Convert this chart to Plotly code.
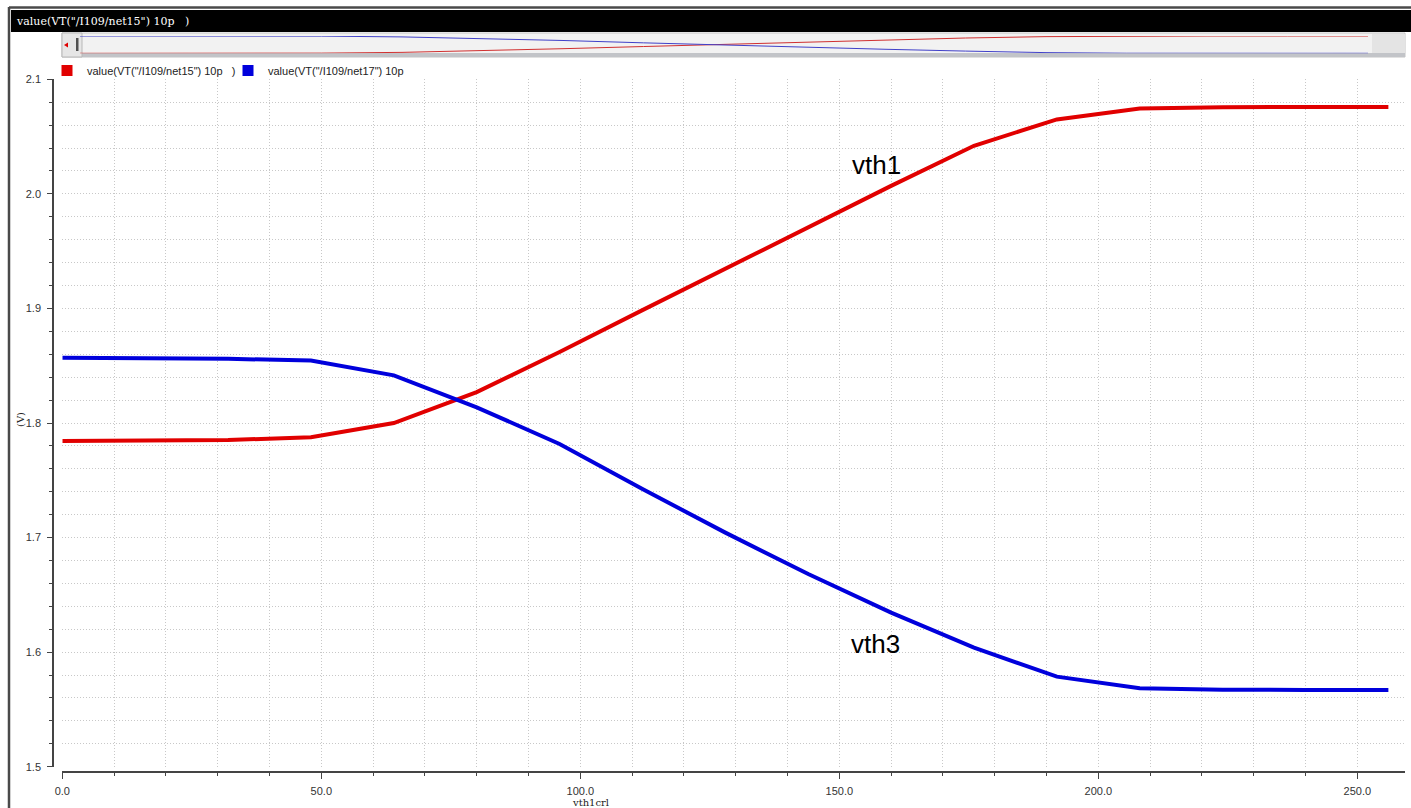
import plotly.graph_objects as go

# ---- data ----
sweep = [0, 16, 32, 48, 64, 80, 96, 112, 128, 144, 160, 176, 192, 208, 224, 240, 256]
vth1 = [1.7843, 1.7845, 1.7852, 1.7875, 1.8000, 1.8270, 1.8620, 1.8985, 1.9345,
        1.9705, 2.0070, 2.0420, 2.0650, 2.0745, 2.0757, 2.0758, 2.0758]
vth3 = [1.8570, 1.8569, 1.8560, 1.8546, 1.8416, 1.8137, 1.7817, 1.7424, 1.7043,
        1.6682, 1.6345, 1.6040, 1.5786, 1.5684, 1.5672, 1.5670, 1.5670]
name1 = 'value(VT("/I109/net15") 10p\u00a0\u00a0\u00a0)'
name2 = 'value(VT("/I109/net17") 10p\u00a0\u00a0\u00a0)'
y_ticks = [1.5, 1.6, 1.7, 1.8, 1.9, 2.0, 2.1]
x_ticks = [0, 50, 100, 150, 200, 250]

W, H = 1411, 808
RED = "#e10000"
BLUE = "#0000dc"


def px(x):
    return min(max(x / W, 0.0), 1.0)


def py(y):
    return min(max(1 - y / H, 0.0), 1.0)


fig = go.Figure()
# main curves
fig.add_trace(go.Scatter(x=sweep, y=vth1, mode="lines", line=dict(color=RED, width=4),
                         showlegend=False, xaxis="x", yaxis="y"))
fig.add_trace(go.Scatter(x=sweep, y=vth3, mode="lines", line=dict(color=BLUE, width=4),
                         showlegend=False, xaxis="x", yaxis="y"))
# legend swatches
fig.add_trace(go.Scatter(x=[None], y=[None], mode="markers", name=name1,
                         marker=dict(symbol="square", size=11, color=RED)))
fig.add_trace(go.Scatter(x=[None], y=[None], mode="markers", name=name2,
                         marker=dict(symbol="square", size=11, color=BLUE)))
# overview strip in the scrollbar
fig.add_trace(go.Scatter(x=sweep, y=vth1, mode="lines", line=dict(color="#d03030", width=1),
                         showlegend=False, xaxis="x2", yaxis="y2", hoverinfo="skip"))
fig.add_trace(go.Scatter(x=sweep, y=vth3, mode="lines", line=dict(color="#4040c8", width=1),
                         showlegend=False, xaxis="x2", yaxis="y3", hoverinfo="skip"))

GRIDC = "#c8c8c8"
GDASH = "1px,2px"
grid = dict(showgrid=True, gridcolor=GRIDC, griddash=GDASH, gridwidth=1)

shapes = [
    # window frame
    dict(type="line", xref="paper", yref="paper", x0=px(9), x1=px(9), y0=0, y1=py(7),
         line=dict(color="#4a4a4a", width=2.5), layer="above"),
    dict(type="line", xref="paper", yref="paper", x0=px(9), x1=1, y0=py(7.5), y1=py(7.5),
         line=dict(color="#4a4a4a", width=2.5)),
    # black title bar
    dict(type="rect", xref="paper", yref="paper", x0=px(11), x1=1, y0=py(32), y1=py(10),
         fillcolor="black", line=dict(width=0), layer="below"),
    # scrollbar
    dict(type="rect", xref="paper", yref="paper", x0=px(62), x1=px(1405), y0=py(57), y1=py(33),
         fillcolor="#f2f2f2", line=dict(color="#c4c4c4", width=1), layer="below"),
    dict(type="rect", xref="paper", yref="paper", x0=px(62), x1=px(1405), y0=py(57), y1=py(53),
         fillcolor="#c2c4c8", line=dict(width=0), layer="below"),
    dict(type="rect", xref="paper", yref="paper", x0=px(1372), x1=px(1405), y0=py(53), y1=py(34),
         fillcolor="#e4e4e4", line=dict(width=0), layer="below"),
    dict(type="rect", xref="paper", yref="paper", x0=px(62), x1=px(82), y0=py(57), y1=py(33),
         fillcolor="#e6e6e6", line=dict(color="#b8b8b8", width=1), layer="below"),
    dict(type="path", xref="paper", yref="paper",
         path=f"M {px(64)} {py(45)} L {px(68)} {py(42.5)} L {px(68)} {py(47.5)} Z",
         fillcolor="#e00000", line=dict(width=0)),
    dict(type="rect", xref="paper", yref="paper", x0=px(76), x1=px(78.5), y0=py(51), y1=py(38),
         fillcolor="#505050", line=dict(width=0)),
]

annotations = [
    dict(text=name1, x=px(14), y=py(21), xref="paper", yref="paper", xanchor="left",
         yanchor="middle", showarrow=False,
         font=dict(family="DejaVu Serif", size=11, color="white")),
    dict(text="vth1", x=px(876), y=py(165), xref="paper", yref="paper", showarrow=False,
         xanchor="center", yanchor="middle",
         font=dict(family="Liberation Sans", size=26, color="black")),
    dict(text="vth3", x=px(875), y=py(644), xref="paper", yref="paper", showarrow=False,
         xanchor="center", yanchor="middle",
         font=dict(family="Liberation Sans", size=26, color="black")),
    dict(text="(V)", x=px(20), y=py(420), xref="paper", yref="paper", showarrow=False,
         xanchor="center", yanchor="middle",
         textangle=-90, font=dict(family="DejaVu Serif", size=10, color="#222")),
    dict(text="vth1crl", x=px(590), y=py(795), xref="paper", yref="paper", showarrow=False,
         xanchor="center", yanchor="top",
         font=dict(family="DejaVu Serif", size=10, color="#222")),
]

x_px0, x_px1 = 62.3, 1405
x_scale = 5.18
fig.update_layout(
    width=W, height=H, margin=dict(l=0, r=0, t=0, b=0, autoexpand=False),
    paper_bgcolor="white", plot_bgcolor="white",
    showlegend=True,
    legend=dict(orientation="h", x=px(47), y=py(56), xanchor="left", yanchor="top",
                font=dict(family="Liberation Sans", size=11, color="#222"),
                itemwidth=30, entrywidth=136, bgcolor="rgba(0,0,0,0)"),
    xaxis=dict(domain=[px(x_px0), px(x_px1)], range=[0, (x_px1 - x_px0) / x_scale],
               anchor="free", position=py(772), showline=True, linecolor="#444", linewidth=1.5,
               tickvals=x_ticks, tickformat=".1f", ticks="outside", ticklen=6, tickcolor="#444",
               ticklabelstandoff=3,
               tickfont=dict(family="Liberation Sans", size=11, color="#333"),
               minor=dict(dtick=10, ticks="outside", ticklen=3, tickcolor="#444",
                          showgrid=True, gridcolor=GRIDC, griddash=GDASH),
               zeroline=False, **grid),
    yaxis=dict(domain=[py(766.7), py(79.3)], range=[1.5, 2.1],
               anchor="free", position=px(53), showline=True, linecolor="#444", linewidth=1.5,
               tickvals=y_ticks, tickformat=".1f", ticks="outside", ticklen=5, tickcolor="#444",
               ticklabelstandoff=4,
               tickfont=dict(family="Liberation Sans", size=11, color="#333"),
               minor=dict(dtick=0.02, ticks="outside", ticklen=3, tickcolor="#444",
                          showgrid=True, gridcolor=GRIDC, griddash=GDASH),
               zeroline=False, **grid),
    xaxis2=dict(domain=[px(80), px(1368)], range=[0, 256], anchor="y2", visible=False),
    yaxis2=dict(domain=[py(53.3), py(36)], range=[min(vth1), max(vth1)], anchor="x2",
                visible=False),
    yaxis3=dict(domain=[py(53.3), py(43.3)], range=[min(vth3), max(vth3)], anchor="x2",
                visible=False, overlaying="y2"),
    shapes=shapes,
    annotations=annotations,
)

fig.write_html("out.html", config={"displayModeBar": False},
               post_script="document.body.style.margin='0';")
